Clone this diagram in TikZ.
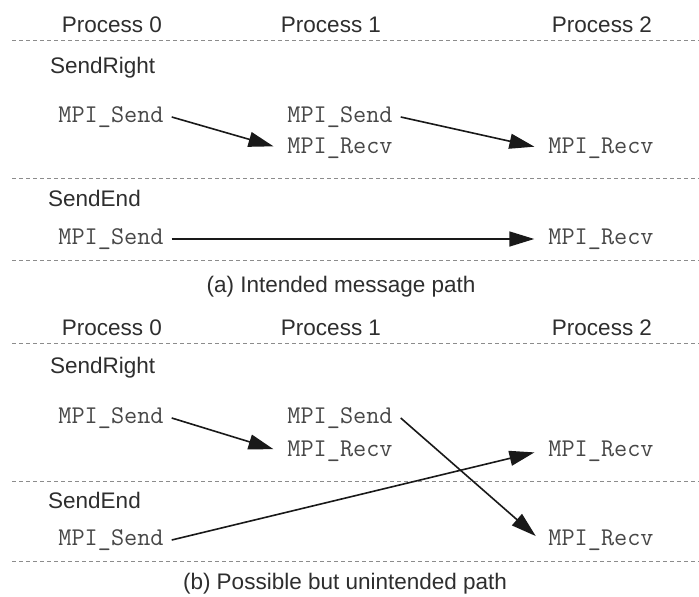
\documentclass[tikz,border=0pt]{standalone}
\usepackage{fontspec}
\setmainfont{Liberation Sans}
\usetikzlibrary{arrows.meta}
\tikzset{
  label/.style={font=\fontsize{22.5}{26}\selectfont, text=black!82, inner sep=0pt},
  call/.style={font=\ttfamily\fontsize{25.5}{28}\selectfont, text=black!72, inner xsep=8pt, inner ysep=0pt},
  sep/.style={draw=black!45, line width=0.9pt, dash pattern=on 4pt off 3pt},
  msg/.style={draw=black!90, line width=1.6pt, shorten >=6pt,
    -{Triangle[length=25pt,width=15pt]}},
}
\begin{document}
\begin{tikzpicture}[x=1pt,y=-1pt]
  \useasboundingbox[fill=white] (0,0) rectangle (699,597);

  % ---------- (a) ----------
  \node[label] (ha0) at (112,25) {Process 0};
  \node[label] (ha1) at (331,25) {Process 1};
  \node[label] (ha2) at (602,25) {Process 2};
  \draw[sep] (12,40) -- (699,40);
  \node[label, anchor=west] (ra) at (50,68) {SendRight};
  \node[call] (sa0) at (111,117) {MPI\_Send};
  \node[call] (sa1) at (340,117) {MPI\_Send};
  \node[call] (qa1) at (340,148) {MPI\_Recv};
  \node[call] (qa2) at (601,148) {MPI\_Recv};
  \draw[msg] (sa0.east) -- (qa1.west);
  \draw[msg] (sa1.east) -- (qa2.west);
  \draw[sep] (12,178) -- (699,178);
  \node[label, anchor=west] (ea) at (48,198) {SendEnd};
  \node[call] (ta0) at (111,239) {MPI\_Send};
  \node[call] (ua2) at (601,239) {MPI\_Recv};
  \draw[msg] (ta0.east) -- (ua2.west);
  \draw[sep] (12,260) -- (699,260);
  \node[label] (capa) at (341,287) {(a) Intended message path};

  % ---------- (b) ----------
  \node[label] (hb0) at (112,328) {Process 0};
  \node[label] (hb1) at (331,328) {Process 1};
  \node[label] (hb2) at (602,328) {Process 2};
  \draw[sep] (12,343) -- (699,343);
  \node[label, anchor=west] (rb) at (50,368) {SendRight};
  \node[call] (sb0) at (111,418) {MPI\_Send};
  \node[call] (sb1) at (340,418) {MPI\_Send};
  \node[call] (qb1) at (340,451) {MPI\_Recv};
  \node[call] (qb2) at (601,451) {MPI\_Recv};
  \draw[sep] (12,481) -- (699,481);
  \node[label, anchor=west] (eb) at (48,500) {SendEnd};
  \node[call] (tb0) at (111,540) {MPI\_Send};
  \node[call] (ub2) at (601,540) {MPI\_Recv};
  \draw[sep] (12,561) -- (699,561);
  \draw[msg] (sb0.east) -- (qb1.west);
  \draw[msg] (sb1.east) -- (ub2.west);
  \draw[msg] (tb0.east) -- (qb2.west);
  \node[label] (capb) at (345,584) {(b) Possible but unintended path};
\end{tikzpicture}
\end{document}
